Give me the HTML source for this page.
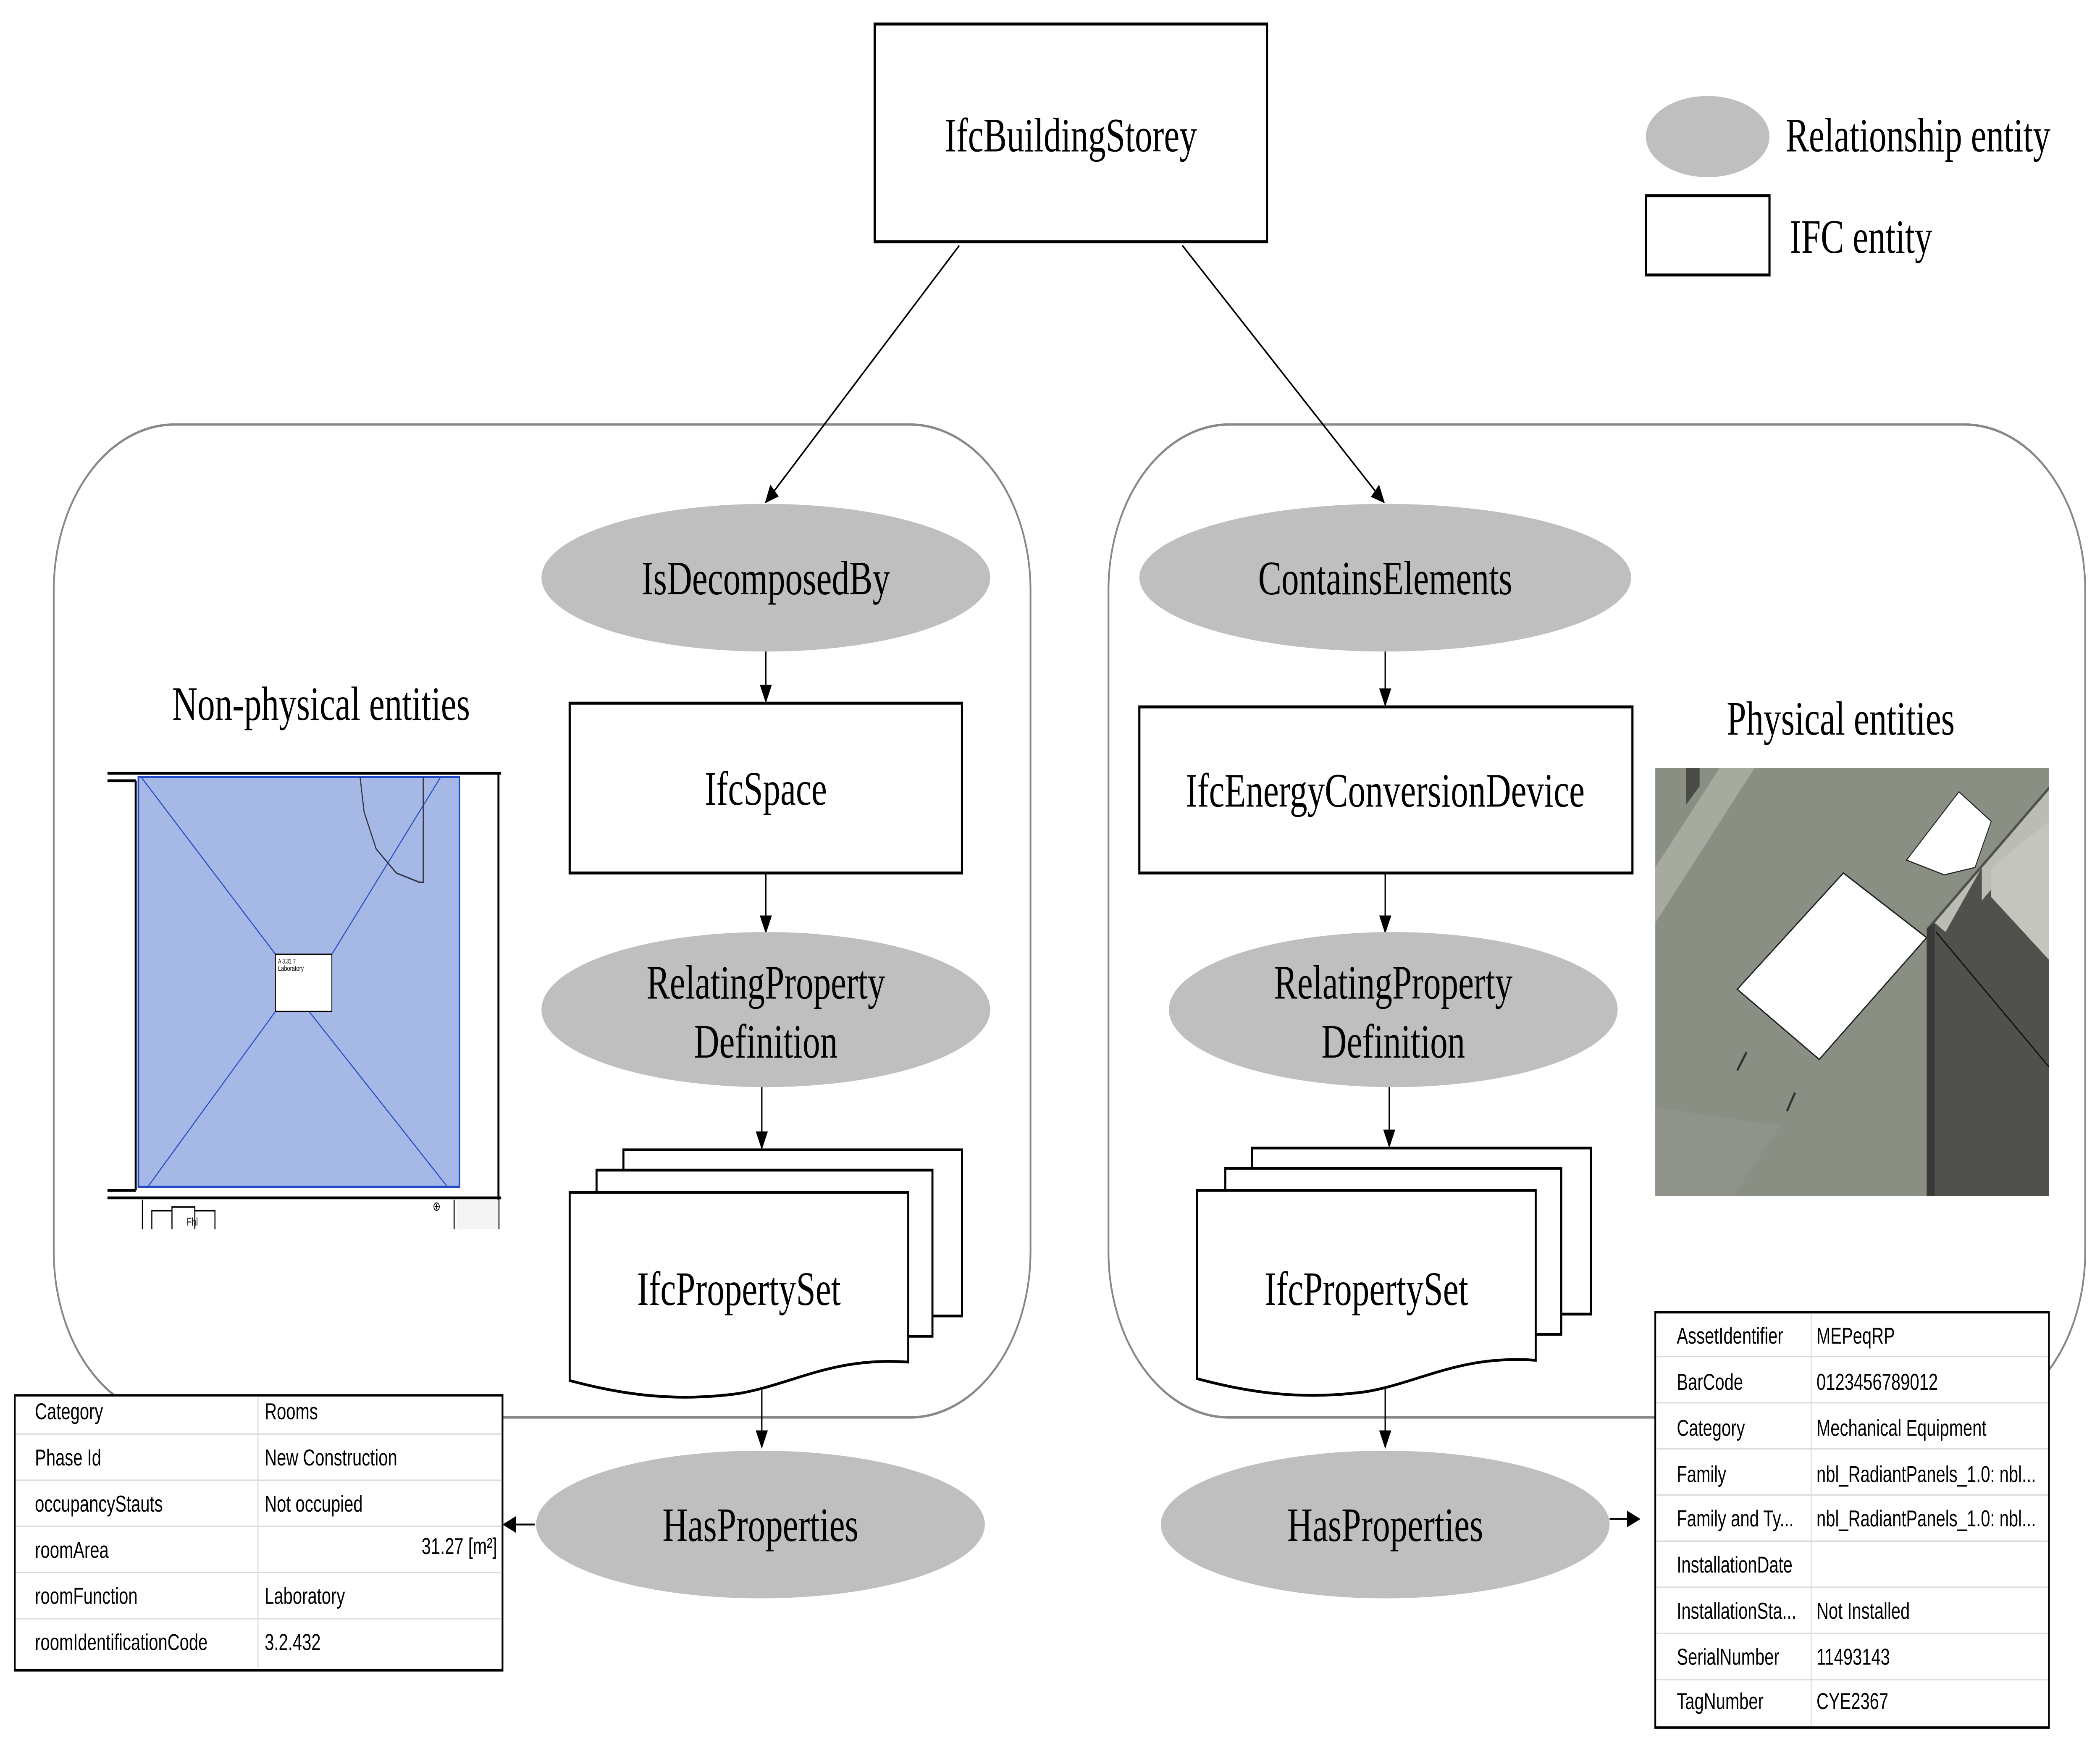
<!DOCTYPE html>
<html><head><meta charset="utf-8"><style>
html,body{margin:0;padding:0;background:#fff;width:100%;height:100%;overflow:hidden;}
svg{display:block;position:fixed;left:0;top:0;width:100vw;height:100vh;}
.s{font-family:"Liberation Serif",serif;font-size:26px;text-anchor:middle;fill:#000;}
.t{font-family:"Liberation Sans",sans-serif;font-size:12.5px;fill:#000;}
</style></head><body>
<svg viewBox="0 0 1563 946" preserveAspectRatio="none" xmlns="http://www.w3.org/2000/svg">
<defs><marker id="a" markerWidth="10" markerHeight="10" refX="9" refY="5" orient="auto" markerUnits="userSpaceOnUse"><path d="M0,0.5 L10,5 L0,9.5 Z" fill="#000"/></marker></defs>
<rect width="1563" height="946" fill="#fff"/>
<rect x="40" y="230" width="727" height="538" rx="90" fill="none" stroke="#888" stroke-width="1.3"/>
<rect x="825" y="230" width="727" height="538" rx="90" fill="none" stroke="#888" stroke-width="1.3"/>
<rect x="651" y="13" width="292" height="118" fill="#fff" stroke="#000" stroke-width="1.6"/>
<text class="s" x="797" y="82">IfcBuildingStorey</text>
<ellipse cx="1271" cy="74" rx="46" ry="22" fill="#bfbfbf"/>
<text class="s" x="1329" y="82" style="text-anchor:start">Relationship entity</text>
<rect x="1225" y="106" width="92" height="43" fill="#fff" stroke="#000" stroke-width="1.6"/>
<text class="s" x="1332" y="137" style="text-anchor:start">IFC entity</text>
<g stroke="#000" stroke-width="1" marker-end="url(#a)">
<line x1="714" y1="133" x2="570" y2="272"/>
<line x1="880" y1="133" x2="1030" y2="272"/>
<line x1="570" y1="353" x2="570" y2="380"/>
<line x1="570" y1="473" x2="570" y2="505"/>
<line x1="567" y1="588" x2="567" y2="622"/>
<line x1="567" y1="747" x2="567" y2="784"/>
<line x1="398" y1="826" x2="375" y2="826"/>
<line x1="1031" y1="353" x2="1031" y2="382"/>
<line x1="1031" y1="473" x2="1031" y2="505"/>
<line x1="1034" y1="588" x2="1034" y2="621"/>
<line x1="1031" y1="747" x2="1031" y2="784"/>
<line x1="1198" y1="823" x2="1220" y2="823"/>
</g>
<ellipse cx="570" cy="313" rx="167" ry="40" fill="#bfbfbf"/>
<text class="s" x="570" y="322">IsDecomposedBy</text>
<rect x="424" y="381" width="292" height="92" fill="#fff" stroke="#000" stroke-width="1.6"/>
<text class="s" x="570" y="436">IfcSpace</text>
<ellipse cx="570" cy="547" rx="167" ry="42" fill="#bfbfbf"/>
<text class="s" x="570" y="541">RelatingProperty</text>
<text class="s" x="570" y="573">Definition</text>
<rect x="464" y="623" width="252" height="90" fill="#fff" stroke="#000" stroke-width="1.5"/>
<rect x="444" y="634" width="250" height="90" fill="#fff" stroke="#000" stroke-width="1.5"/>
<path d="M424,646 L676,646 L676,738 C620,735 590,750 550,755 C500,760 460,755 424,748 Z" fill="#fff" stroke="#000" stroke-width="1.5"/>
<text class="s" x="550" y="707">IfcPropertySet</text>
<ellipse cx="566" cy="826" rx="167" ry="40" fill="#bfbfbf"/>
<text class="s" x="566" y="835">HasProperties</text>
<text class="s" x="239" y="390">Non-physical entities</text>
<g>
<line x1="80" y1="419" x2="373" y2="419" stroke="#000" stroke-width="1.5"/>
<line x1="80" y1="649" x2="373" y2="649" stroke="#000" stroke-width="1.5"/>
<line x1="80" y1="423" x2="101" y2="423" stroke="#000" stroke-width="1.5"/>
<line x1="80" y1="645" x2="101" y2="645" stroke="#000" stroke-width="1.5"/>
<line x1="101" y1="423" x2="101" y2="645" stroke="#000" stroke-width="1.5"/>
<line x1="371" y1="419" x2="371" y2="666" stroke="#000" stroke-width="1.5"/>
<rect x="103" y="421" width="239" height="222" fill="#a6b9e6" stroke="#1f49c9" stroke-width="1.2"/>
<path d="M105,421 L205,517 M328,421 L247,517 M205,548 L110,643 M230,548 L333,643" stroke="#2a4fc4" stroke-width="0.7" fill="none"/>
<path d="M268,421 L271,440 L280,460 L295,473 L312,478 L315,478 L315,421" stroke="#334" stroke-width="0.8" fill="none"/>
<rect x="205" y="517" width="42" height="31" fill="#fff" stroke="#000" stroke-width="0.6"/>
<text x="207" y="522" font-family="Liberation Sans,sans-serif" font-size="3.5">A 3.31.T</text>
<text x="207" y="526" font-family="Liberation Sans,sans-serif" font-size="4">Laboratory</text>
<path d="M106,666 V650 M338,666 V650 M128,666 V654 H145 V666 M113,666 V656 H128 M145,656 H160 V666" stroke="#000" stroke-width="0.8" fill="none"/>
<text x="139" y="664" font-family="Liberation Sans,sans-serif" font-size="6">Fhl</text>
<rect x="340" y="650" width="31" height="16" fill="#f4f4f4"/>
<text x="322" y="656" font-size="7">⊕</text>
</g>
<g>
<rect x="11" y="756" width="363" height="149" fill="#fff" stroke="#000" stroke-width="1.3"/>
<g stroke="#ddd" stroke-width="0.8">
<line x1="12" y1="777" x2="373" y2="777"/><line x1="12" y1="802" x2="373" y2="802"/><line x1="12" y1="827" x2="373" y2="827"/><line x1="12" y1="852" x2="373" y2="852"/><line x1="12" y1="877" x2="373" y2="877"/>
<line x1="192" y1="757" x2="192" y2="904"/>
</g>
<text class="t" x="26" y="769">Category</text><text class="t" x="197" y="769">Rooms</text>
<text class="t" x="26" y="794">Phase Id</text><text class="t" x="197" y="794">New Construction</text>
<text class="t" x="26" y="819">occupancyStauts</text><text class="t" x="197" y="819">Not occupied</text>
<text class="t" x="26" y="844">roomArea</text><text class="t" x="370" y="842" text-anchor="end">31.27 [m²]</text>
<text class="t" x="26" y="869">roomFunction</text><text class="t" x="197" y="869">Laboratory</text>
<text class="t" x="26" y="894">roomIdentificationCode</text><text class="t" x="197" y="894">3.2.432</text>
</g>
<ellipse cx="1031" cy="313" rx="183" ry="40" fill="#bfbfbf"/>
<text class="s" x="1031" y="322">ContainsElements</text>
<rect x="848" y="383" width="367" height="90" fill="#fff" stroke="#000" stroke-width="1.6"/>
<text class="s" x="1031" y="437">IfcEnergyConversionDevice</text>
<ellipse cx="1037" cy="547" rx="167" ry="42" fill="#bfbfbf"/>
<text class="s" x="1037" y="541">RelatingProperty</text>
<text class="s" x="1037" y="573">Definition</text>
<rect x="932" y="622" width="252" height="90" fill="#fff" stroke="#000" stroke-width="1.5"/>
<rect x="912" y="633" width="250" height="90" fill="#fff" stroke="#000" stroke-width="1.5"/>
<path d="M891,645 L1143,645 L1143,737 C1087,734 1057,749 1017,754 C967,759 927,754 891,747 Z" fill="#fff" stroke="#000" stroke-width="1.5"/>
<text class="s" x="1017" y="707">IfcPropertySet</text>
<ellipse cx="1031" cy="826" rx="167" ry="40" fill="#bfbfbf"/>
<text class="s" x="1031" y="835">HasProperties</text>
<text class="s" x="1370" y="398">Physical entities</text>
<g>
<rect x="1232" y="416" width="293" height="232" fill="#8a8f84"/>
<path d="M1232,470 L1280,416 L1306,416 L1232,500 Z" fill="#a7ab9f"/>
<path d="M1232,600 L1232,648 L1290,648 L1325,610 Z" fill="#8f938a"/>
<path d="M1255,416 L1265,416 L1265,426 L1255,436 Z" fill="#4a4b47"/>
<path d="M1419,466 L1458,429 L1482,445 L1470,470 L1447,474 Z" fill="#fff" stroke="#222" stroke-width="0.6"/>
<path d="M1293,536 L1372,473 L1434,508 L1354,574 Z" fill="#fff" stroke="#222" stroke-width="0.8"/>
<path d="M1300,570 L1293,580 M1336,592 L1330,602" stroke="#333" stroke-width="1.5"/>
<path d="M1434,503 L1525,426 L1525,648 L1434,648 Z" fill="#50514d"/>
<path d="M1440,500 L1525,428 L1525,445 L1475,488 L1475,470 L1448,505 Z" fill="#bbbcb4"/>
<path d="M1434,503 L1440,500 L1440,648 L1434,648 Z" fill="#3a3b38"/>
<path d="M1482,486 L1525,520 L1525,445 L1482,470 Z" fill="#c4c5bc"/>
<path d="M1441,505 L1525,578" stroke="#111" stroke-width="0.8"/>
</g>
<g>
<rect x="1232" y="711" width="293" height="225" fill="#fff" stroke="#000" stroke-width="1.3"/>
<g stroke="#ddd" stroke-width="0.8">
<line x1="1233" y1="735" x2="1524" y2="735"/><line x1="1233" y1="760" x2="1524" y2="760"/><line x1="1233" y1="785" x2="1524" y2="785"/><line x1="1233" y1="810" x2="1524" y2="810"/><line x1="1233" y1="835" x2="1524" y2="835"/><line x1="1233" y1="860" x2="1524" y2="860"/><line x1="1233" y1="885" x2="1524" y2="885"/><line x1="1233" y1="910" x2="1524" y2="910"/>
<line x1="1348" y1="712" x2="1348" y2="935"/>
</g>
<text class="t" x="1248" y="728">AssetIdentifier</text><text class="t" x="1352" y="728">MEPeqRP</text>
<text class="t" x="1248" y="753">BarCode</text><text class="t" x="1352" y="753">0123456789012</text>
<text class="t" x="1248" y="778">Category</text><text class="t" x="1352" y="778">Mechanical Equipment</text>
<text class="t" x="1248" y="803">Family</text><text class="t" x="1352" y="803">nbl_RadiantPanels_1.0: nbl...</text>
<text class="t" x="1248" y="827">Family and Ty...</text><text class="t" x="1352" y="827">nbl_RadiantPanels_1.0: nbl...</text>
<text class="t" x="1248" y="852">InstallationDate</text>
<text class="t" x="1248" y="877">InstallationSta...</text><text class="t" x="1352" y="877">Not Installed</text>
<text class="t" x="1248" y="902">SerialNumber</text><text class="t" x="1352" y="902">11493143</text>
<text class="t" x="1248" y="926">TagNumber</text><text class="t" x="1352" y="926">CYE2367</text>
</g>
</svg>
</body></html>
